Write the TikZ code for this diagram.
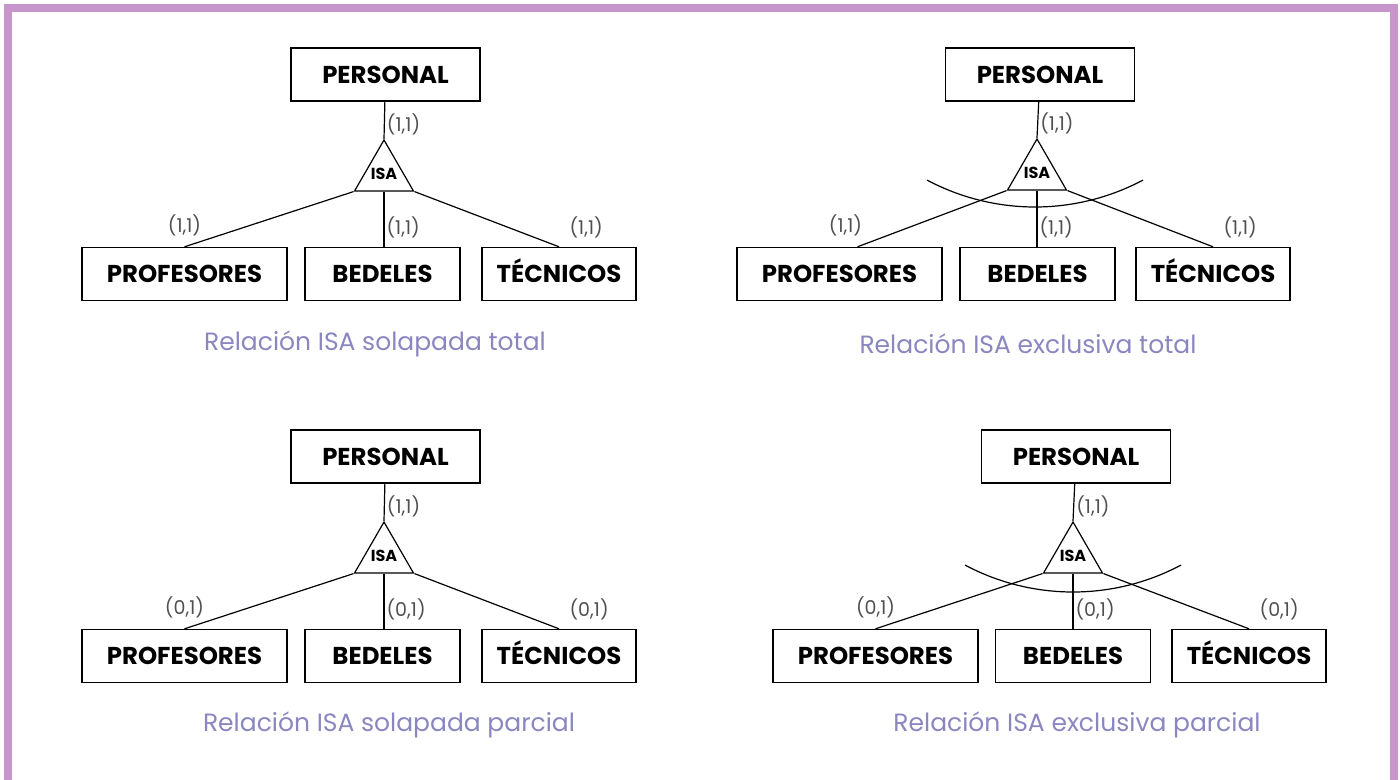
\documentclass[tikz,border=0pt]{standalone}
\usepackage{fontspec}
\setmainfont{Poppins}
\usepackage{tikz}
\usetikzlibrary{shapes.geometric}
\definecolor{marcomorado}{RGB}{200,150,204}
\definecolor{lavanda}{RGB}{138,134,192}
\definecolor{griscard}{RGB}{80,80,80}
\tikzstyle{entidad} = [rectangle, minimum height=26.5pt, inner sep=0pt, text height=8.6pt, text depth=0pt, text centered, draw=black, line width=0.7pt, font=\bfseries\fontsize{12.2}{14}\selectfont]
\tikzstyle{isa} = [regular polygon, regular polygon sides=3, minimum size=34pt, inner sep=-3pt, draw=black, line width=0.6pt, font=\bfseries\fontsize{8}{9}\selectfont]
\tikzstyle{card} = [inner sep=1pt, text=griscard, font=\fontsize{9.5}{11}\selectfont]
\tikzstyle{titulo} = [text=lavanda, font=\fontsize{12.5}{14}\selectfont]
\tikzstyle{linea} = [line width=0.6pt]
\tikzstyle{exclusion} = [line width=0.6pt]

\begin{document}
\begin{tikzpicture}[x=0.5pt, y=-0.5pt]
    \useasboundingbox (0,0) rectangle (1400,780);
    \draw [marcomorado, line width=4.3pt] (8,790) -- (8,8) -- (1394,8) -- (1394,790);

    % solapada total
    \node (per1) [entidad, minimum width=94.5pt] at (385.5,74.5) {PERSONAL};
    \node (isa1) [isa] at (384,174) {ISA};
    \node (prof1) [entidad, minimum width=102.5pt] at (184.5,274) {PROFESORES};
    \node (bed1) [entidad, minimum width=77.5pt] at (382.5,274) {BEDELES};
    \node (tec1) [entidad, minimum width=77pt] at (559,274) {TÉCNICOS};
    \node (tit1) [titulo] at (375,344) {Relación ISA solapada total};

    \draw [linea] (per1) -- node[card, right, pos=0.6] {(1,1)} (isa1.corner 1);
    \draw [linea] (isa1.corner 2) -- (prof1.north) node[card, above, yshift=4pt] {(1,1)};
    \draw [linea] (isa1.south) -- node[card, right, pos=0.65] {(1,1)} (isa1.south |- bed1.north);
    \draw [linea] (isa1.corner 3) -- (tec1.north) node[card, above right, xshift=4pt, yshift=3pt] {(1,1)};

    % exclusiva total
    \node (per2) [entidad, minimum width=94.5pt] at (1040,74.5) {PERSONAL};
    \node (isa2) [isa] at (1037,173) {ISA};
    \node (prof2) [entidad, minimum width=102.5pt] at (839.5,274) {PROFESORES};
    \node (bed2) [entidad, minimum width=77.5pt] at (1037.5,274) {BEDELES};
    \node (tec2) [entidad, minimum width=77pt] at (1213,274) {TÉCNICOS};
    \node (tit2) [titulo] at (1028,344) {Relación ISA exclusiva total};

    \draw [linea] (per2) -- node[card, right, pos=0.6] {(1,1)} (isa2.corner 1);
    \draw [linea] (isa2.corner 2) -- ([xshift=9pt]prof2.north) node[card, above, xshift=-6pt, yshift=4pt] {(1,1)};
    \draw [linea] (isa2.south) -- node[card, right, pos=0.65] {(1,1)} (isa2.south |- bed2.north);
    \draw [linea] (isa2.corner 3) -- (tec2.north) node[card, above right, xshift=4pt, yshift=3pt] {(1,1)};
    \draw [exclusion] (1035,-23) ++(118:230) arc[start angle=118, end angle=62, radius=230];

    % solapada parcial
    \node (per3) [entidad, minimum width=94.5pt] at (385.5,456.5) {PERSONAL};
    \node (isa3) [isa] at (384,556) {ISA};
    \node (prof3) [entidad, minimum width=102.5pt] at (184.5,656) {PROFESORES};
    \node (bed3) [entidad, minimum width=77.5pt] at (382.5,656) {BEDELES};
    \node (tec3) [entidad, minimum width=77pt] at (559,656) {TÉCNICOS};
    \node (tit3) [titulo] at (389,725) {Relación ISA solapada parcial};

    \draw [linea] (per3) -- node[card, right, pos=0.6] {(1,1)} (isa3.corner 1);
    \draw [linea] (isa3.corner 2) -- (prof3.north) node[card, above, yshift=4pt] {(0,1)};
    \draw [linea] (isa3.south) -- node[card, right, pos=0.65] {(0,1)} (isa3.south |- bed3.north);
    \draw [linea] (isa3.corner 3) -- (tec3.north) node[card, above right, xshift=4pt, yshift=3pt] {(0,1)};

    % exclusiva parcial
    \node (per4) [entidad, minimum width=94.5pt] at (1076,456.5) {PERSONAL};
    \node (isa4) [isa] at (1073,556) {ISA};
    \node (prof4) [entidad, minimum width=102.5pt] at (875.5,656) {PROFESORES};
    \node (bed4) [entidad, minimum width=77.5pt] at (1073,656) {BEDELES};
    \node (tec4) [entidad, minimum width=77pt] at (1249,656) {TÉCNICOS};
    \node (tit4) [titulo] at (1077,725) {Relación ISA exclusiva parcial};

    \draw [linea] (per4) -- node[card, right, pos=0.6] {(1,1)} (isa4.corner 1);
    \draw [linea] (isa4.corner 2) -- (prof4.north) node[card, above, yshift=4pt] {(0,1)};
    \draw [linea] (isa4.south) -- node[card, right, pos=0.65] {(0,1)} (isa4.south |- bed4.north);
    \draw [linea] (isa4.corner 3) -- (tec4.north) node[card, above right, xshift=4pt, yshift=3pt] {(0,1)};
    \draw [exclusion] (1073,362) ++(118:230) arc[start angle=118, end angle=62, radius=230];
\end{tikzpicture}
\end{document}
